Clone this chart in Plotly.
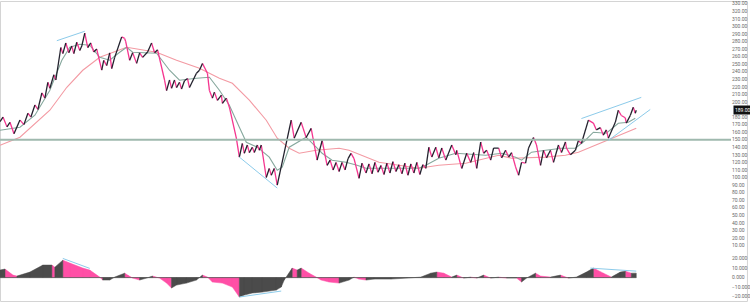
import plotly.graph_objects as go

# ---------------- data (bar index) ----------------
pivot_bar = [0, 3, 7, 10, 14, 20, 24, 28, 31, 35, 38, 42, 45, 48, 50, 54, 56, 61,
             63, 66, 69, 72, 74, 77, 80, 82, 85,
             88, 91, 94, 97, 102, 104, 107, 110, 112, 115, 122, 125, 126, 130, 133, 137, 140, 143, 148, 152, 155, 158,
             165, 167, 170, 172, 175, 177, 180, 182, 185, 188, 190, 197, 200, 203, 208, 210, 213, 215, 218, 222, 223, 227, 230,
             237, 240, 243, 245, 248, 250, 253, 255, 258, 260, 262, 267, 270, 272, 275, 278,
             292, 295, 302, 307, 312, 318, 323, 328, 331, 334, 337, 340, 343, 346, 349, 352, 355, 360, 363, 367,
             370, 373, 376, 379, 382, 385, 388, 391, 394, 397, 400, 403, 406, 409, 412, 415, 418, 421, 424, 427,
             430, 433, 437, 440, 443, 447, 453, 457, 458, 463, 468, 472, 475, 478, 482, 485, 488, 492, 495, 500,
             503, 507, 510, 513, 517, 520, 523, 527, 530, 535, 538, 542, 545, 548, 552, 555, 560, 563, 567, 568,
             572, 577, 580, 583, 590, 595, 598, 602, 605, 608, 610, 617, 620, 623, 627, 628, 632, 635, 637, 638]
pivot_price = [174, 180, 167, 173, 158, 176, 170, 185, 180, 196, 190, 212, 205, 226, 218, 236, 229, 272,
               264, 278, 265, 274, 264, 279, 268, 274, 291,
               272, 278, 266, 270, 242, 255, 248, 265, 244, 259, 286, 284, 280, 255, 265, 251, 265, 259, 266, 278, 265, 269,
               229, 215, 229, 218, 229, 219, 226, 217, 228, 231, 219, 238, 242, 251, 238, 215, 205, 213, 202, 209, 198, 205, 193,
               152, 127, 145, 132, 143, 133, 140, 133, 143, 136, 143, 100, 112, 103, 112, 90,
               176, 152, 173, 153, 165, 123, 149, 116, 123, 110, 120, 108, 120, 110, 125, 132, 125, 99, 119, 106,
               118, 105, 120, 107, 116, 104, 119, 106, 121, 108, 117, 105, 119, 103, 118, 106, 120, 104, 117, 112,
               140, 127, 140, 126, 139, 123, 143, 130, 136, 112, 132, 120, 133, 112, 147, 132, 136, 123, 139, 139,
               126, 136, 127, 133, 114, 103, 120, 119, 139, 153, 143, 116, 136, 126, 136, 120, 143, 133, 147, 139,
               130, 136, 149, 145, 176, 172, 163, 166, 156, 163, 152, 173, 189, 182, 179, 172, 182, 193, 185, 189]

fast_bar = [0, 20, 35, 50, 62, 70, 80, 90, 100, 110, 120, 127, 133, 147, 157, 170, 180, 197, 210, 220, 230, 240,
            247, 258, 270, 278, 283, 290, 297, 307, 317, 323, 333, 347, 358, 367, 395, 420, 427, 440, 457, 487,
            503, 517, 523, 533, 547, 563, 577, 587, 595, 608, 620, 630, 637]
fast_ma = [162.6, 166.5, 182.4, 215.5, 255.2, 272.4, 276.3, 275.0, 259.1, 255.2, 265.7, 272.4, 265.7, 264.4, 264.4,
           241.9, 228.7, 231.4, 232.7, 215.5, 195.6, 166.5, 146.7, 140.1, 126.9, 109.7, 113.6, 140.1, 145.4, 153.3,
           140.1, 132.1, 122.9, 120.2, 116.3, 112.3, 112.3, 112.3, 116.3, 125.5, 132.1, 129.5, 132.1, 126.9, 122.9,
           133.5, 136.1, 138.8, 138.8, 149.3, 159.9, 158.6, 171.8, 173.1, 178.4]

slow_bar = [0, 20, 50, 67, 83, 100, 127, 157, 177, 200, 220, 233, 250, 267, 278, 290, 300, 317, 340, 350, 380,
            400, 420, 440, 467, 500, 513, 547, 567, 580, 597, 613, 638]
slow_ma = [142.7, 153.3, 189.0, 219.4, 241.9, 259.1, 272.4, 265.7, 255.2, 244.6, 231.4, 224.7, 202.3, 175.8, 152.0,
           138.8, 132.1, 136.1, 138.8, 136.1, 120.2, 116.3, 112.3, 116.3, 118.9, 129.5, 125.5, 126.9, 129.5, 133.5,
           142.7, 152.0, 165.2]

osc_bar = [0, 5, 13, 17, 30, 43, 52, 55, 63, 70, 83, 90, 100, 103, 110, 115, 125, 128, 133, 140, 147, 153, 160,
           167, 172, 177, 187, 197, 203, 208, 213, 223, 233, 240, 245, 253, 263, 277, 282, 285, 293, 298, 302, 310,
           317, 322, 330, 340, 350, 355, 360, 367, 375, 392, 408, 422, 432, 438, 445, 453, 458, 465, 472, 478, 485,
           492, 500, 508, 518, 523, 528, 537, 542, 552, 562, 570, 578, 588, 595, 605, 613, 622, 627, 633, 638]
osc_val = [7.9, 9.0, 2.6, 1.6, 5.8, 13.2, 13.2, 11.0, 18.4, 15.3, 10.0, 7.9, 0.5, -2.6, -2.6, 0.5, 4.7, 2.6, -0.5,
           -2.6, -0.5, 1.6, -0.5, -5.8, -11.0, -7.9, -5.8, -2.6, 2.6, 0.5, -4.7, -5.8, -10.0, -20.5, -18.4, -16.3,
           -15.3, -13.2, -10.0, -2.6, 10.0, 7.9, 10.0, 4.7, 0.5, -2.6, -4.7, -5.8, -2.6, 0.5, -1.6, -2.6, -1.6, -1.6,
           -0.5, 0.5, 4.7, 5.8, 4.7, 0.5, 2.6, -0.5, 0.5, -0.5, 2.6, -0.5, 0.5, -0.5, -0.5, -4.7, -0.5, 4.7, 1.6,
           0.5, 2.6, -0.5, 0.5, 5.8, 10.0, 4.7, 0.5, 5.8, 6.8, 4.7, 4.7]

level_line = 150
# drawn trend lines: (bar0, value0, bar1, value1)
price_lines = [(57, 281, 85, 293.5), (240, 127, 278, 86), (583, 178, 643, 206), (610, 149, 652, 190)]
osc_lines = [(63, 20.2, 90, 9.7), (240, -20.5, 282, -14.2), (592, 10.0, 638, 6.8)]

price_ticks = list(range(10, 331, 10))
osc_ticks = [-20, -10, 0, 10, 20]

# ---------------- styling ----------------
UP = "#23222e"
DOWN = "#f5358f"
OSC_UP = "#4b4b4b"
OSC_DOWN = "#ff4fa6"
FAST = "#86a89d"
SLOW = "#f39aa3"
BLUE = "#8ccbea"
LEVEL = "#9fb9ae"
TICK = "#6a6a6a"

last_price = pivot_price[-1]
# the last-price badge hides the tick label it sits on
shown_ticks = [t for t in price_ticks if abs(t - last_price) > 5]

fig = go.Figure()

# price zigzag split into rising / falling segments
ux, uy, dx, dy = [], [], [], []
for i in range(len(pivot_bar) - 1):
    seg_x = [pivot_bar[i], pivot_bar[i + 1], None]
    seg_y = [pivot_price[i], pivot_price[i + 1], None]
    if pivot_price[i + 1] >= pivot_price[i]:
        ux += seg_x; uy += seg_y
    else:
        dx += seg_x; dy += seg_y

fig.add_trace(go.Scatter(x=slow_bar, y=slow_ma, mode="lines", line=dict(color=SLOW, width=1.1),
                         xaxis="x", yaxis="y", hoverinfo="skip"))
fig.add_trace(go.Scatter(x=fast_bar, y=fast_ma, mode="lines", line=dict(color=FAST, width=1.1),
                         xaxis="x", yaxis="y", hoverinfo="skip"))
fig.add_trace(go.Scatter(x=dx, y=dy, mode="lines", line=dict(color=DOWN, width=1.3),
                         xaxis="x", yaxis="y", hoverinfo="skip"))
fig.add_trace(go.Scatter(x=ux, y=uy, mode="lines", line=dict(color=UP, width=1.3),
                         xaxis="x", yaxis="y", hoverinfo="skip"))

# oscillator histogram as filled polygons coloured by slope
px_u, py_u, px_d, py_d = [], [], [], []
for i in range(len(osc_bar) - 1):
    x0, x1 = osc_bar[i], osc_bar[i + 1]
    v0, v1 = osc_val[i], osc_val[i + 1]
    poly_x = [x0, x0, x1, x1, x0, None]
    poly_y = [0, v0, v1, 0, 0, None]
    if v1 >= v0:
        px_u += poly_x; py_u += poly_y
    else:
        px_d += poly_x; py_d += poly_y

fig.add_trace(go.Scatter(x=px_d, y=py_d, mode="lines", fill="toself", fillcolor=OSC_DOWN,
                         line=dict(color=OSC_DOWN, width=0.5), xaxis="x2", yaxis="y2", hoverinfo="skip"))
fig.add_trace(go.Scatter(x=px_u, y=py_u, mode="lines", fill="toself", fillcolor=OSC_UP,
                         line=dict(color=OSC_UP, width=0.5), xaxis="x2", yaxis="y2", hoverinfo="skip"))
fig.add_trace(go.Scatter(x=[osc_bar[0], osc_bar[-1]], y=[0, 0], mode="lines",
                         line=dict(color="#555555", width=0.8), xaxis="x2", yaxis="y2", hoverinfo="skip"))

shapes = [dict(type="line", xref="x domain", yref="y", x0=0, x1=1, y0=level_line, y1=level_line,
               line=dict(color=LEVEL, width=2))]
for (a, b, c, d) in price_lines:
    shapes.append(dict(type="line", xref="x", yref="y", x0=a, y0=b, x1=c, y1=d, line=dict(color=BLUE, width=1)))
for (a, b, c, d) in osc_lines:
    shapes.append(dict(type="line", xref="x2", yref="y2", x0=a, y0=b, x1=c, y1=d, line=dict(color=BLUE, width=1)))
# outer frame
shapes.append(dict(type="rect", xref="paper", yref="paper", x0=0.0007, x1=1.0225, y0=0.005, y1=0.9983,
                   line=dict(color="#d4d4d4", width=1), layer="below"))

XR = [0, 733]
fig.update_layout(
    width=750, height=303,
    margin=dict(l=0, r=17, t=0, b=0),
    paper_bgcolor="white", plot_bgcolor="white",
    showlegend=False,
    shapes=shapes,
    xaxis=dict(domain=[0, 1], range=XR, visible=False),
    xaxis2=dict(domain=[0, 1], range=XR, visible=False, anchor="y2"),
    yaxis=dict(domain=[0.1749, 1], range=[3.83, 333.55], side="right", tickvals=shown_ticks,
               tickformat=".2f", showgrid=False, zeroline=False, ticks="", ticklabeloverflow="allow",
               tickfont=dict(size=5, color=TICK, family="Roboto")),
    yaxis2=dict(domain=[0.0066, 0.1683], range=[-24.7, 26.8], side="right", tickvals=osc_ticks,
                tickformat=".3f", showgrid=False, zeroline=False, ticks="", anchor="x2",
                ticklabeloverflow="allow",
                tickfont=dict(size=5, color=TICK, family="Roboto")),
    annotations=[dict(xref="paper", yref="y", x=1.003, y=last_price, xanchor="left", yanchor="middle",
                      text=f"{last_price:.2f}", showarrow=False, bgcolor="#111111",
                      font=dict(size=5, color="white", family="Roboto"), borderpad=1)],
)

fig.write_html("out.html")
